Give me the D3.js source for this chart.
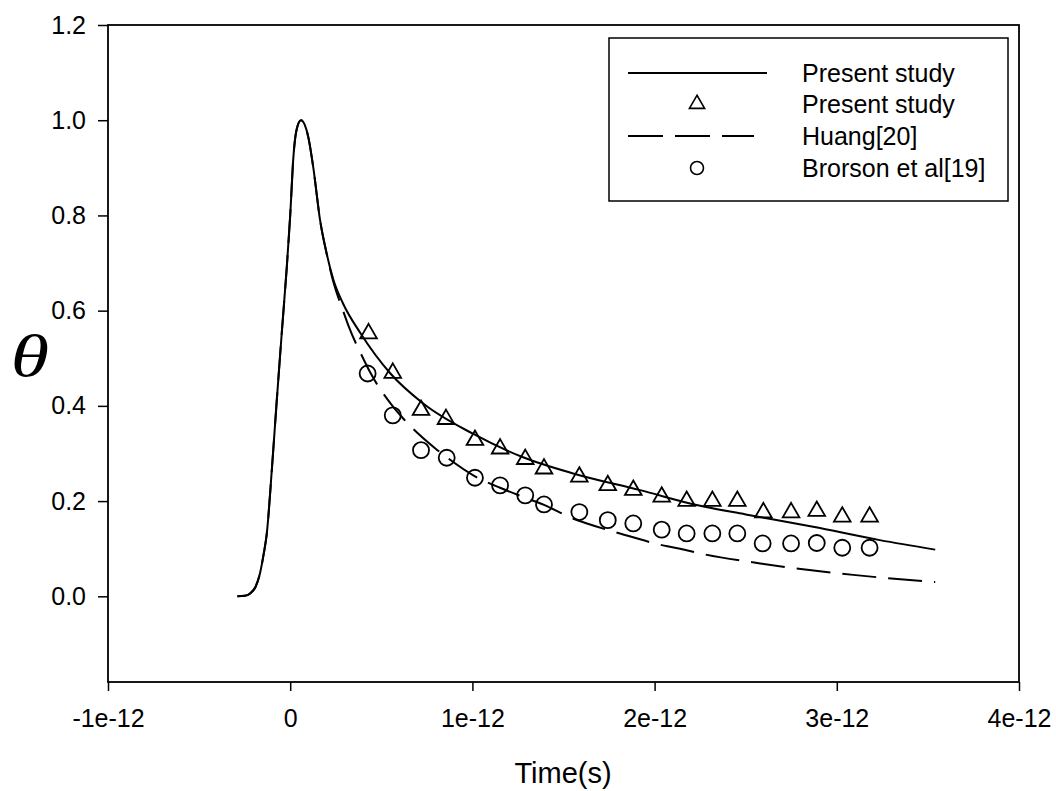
<!DOCTYPE html>
<html>
<head>
<meta charset="utf-8">
<script src="https://cdn.jsdelivr.net/npm/d3@7"></script>
<style>
  html, body { margin: 0; padding: 0; background: #fff; }
  svg { display: block; }
  text { font-family: "Liberation Sans", Arial, sans-serif; fill: #000; }
</style>
</head>
<body>
<svg id="chart" width="1056" height="791"></svg>
<script>
// ---- data (time in seconds) ----
const xTicks = [-1e-12, 0, 1e-12, 2e-12, 3e-12, 4e-12];
const xTickLabels = ["-1e-12", "0", "1e-12", "2e-12", "3e-12", "4e-12"];
const yTicks = [0, 0.2, 0.4, 0.6, 0.8, 1.0, 1.2];
const yTickLabels = ["0.0", "0.2", "0.4", "0.6", "0.8", "1.0", "1.2"];

// Present study (solid line)
const solidT = [-0.29, -0.25, -0.22, -0.19, -0.166, -0.145, -0.129, -0.10, -0.074, -0.047, -0.019, 0.0, 0.017, 0.035, 0.059, 0.08, 0.099, 0.127, 0.164, 0.20, 0.237, 0.29, 0.385, 0.55, 0.73, 1.0, 1.278, 1.553, 1.92, 2.25, 2.5, 2.87, 3.236, 3.54];
const solidV = [0.0, 0.001, 0.006, 0.02, 0.048, 0.09, 0.13, 0.27, 0.41, 0.55, 0.69, 0.80, 0.92, 0.98, 1.0, 0.99, 0.965, 0.90, 0.79, 0.72, 0.665, 0.615, 0.553, 0.468, 0.405, 0.342, 0.292, 0.258, 0.223, 0.19, 0.172, 0.146, 0.118, 0.098];

// Huang[20] (dashed line)
const dashT = [-0.29, -0.25, -0.22, -0.19, -0.166, -0.145, -0.129, -0.10, -0.074, -0.047, -0.019, 0.0, 0.017, 0.035, 0.059, 0.08, 0.099, 0.127, 0.164, 0.20, 0.237, 0.29, 0.319, 0.40, 0.438, 0.559, 0.619, 0.795, 0.859, 1.014, 1.152, 1.29, 1.393, 1.554, 1.629, 1.81, 2.07, 2.14, 2.25, 2.58, 3.09, 3.54];
const dashV = [0.0, 0.001, 0.006, 0.02, 0.048, 0.09, 0.13, 0.27, 0.41, 0.55, 0.69, 0.80, 0.92, 0.98, 1.0, 0.99, 0.965, 0.90, 0.79, 0.72, 0.66, 0.60, 0.569, 0.50, 0.471, 0.401, 0.374, 0.311, 0.292, 0.252, 0.228, 0.207, 0.192, 0.163, 0.153, 0.132, 0.105, 0.100, 0.090, 0.069, 0.045, 0.030];

// Present study (triangles)
const triT = [0.43, 0.563, 0.718, 0.855, 1.014, 1.152, 1.29, 1.393, 1.587, 1.743, 1.883, 2.039, 2.176, 2.317, 2.454, 2.597, 2.749, 2.89, 3.03, 3.18];
const triV = [0.552, 0.469, 0.391, 0.372, 0.328, 0.310, 0.288, 0.268, 0.251, 0.233, 0.223, 0.209, 0.200, 0.200, 0.200, 0.176, 0.176, 0.179, 0.167, 0.167];

// Brorson et al[19] (circles)
const circT = [0.425, 0.563, 0.718, 0.859, 1.014, 1.152, 1.29, 1.393, 1.587, 1.743, 1.883, 2.039, 2.176, 2.317, 2.454, 2.593, 2.749, 2.89, 3.03, 3.18];
const circV = [0.468, 0.380, 0.307, 0.291, 0.249, 0.233, 0.212, 0.193, 0.177, 0.160, 0.153, 0.140, 0.132, 0.132, 0.132, 0.111, 0.111, 0.112, 0.102, 0.102];

const legendLabels = ["Present study", "Present study", "Huang[20]", "Brorson et al[19]"];
const xLabel = "Time(s)";
const yLabel = "θ";

const PS = 1e-12;
const toPts = (ts, vs) => ts.map((t, i) => [t * PS, vs[i]]);

// ---- layout ----
const svg = d3.select("#chart");
const L = 108, R = 1019, T = 25, B = 682;
const x = d3.scaleLinear().domain([-1e-12, 4e-12]).range([L, R]);
const y = d3.scaleLinear().domain([-0.18, 1.2]).range([B, T]);

// frame
svg.append("rect").attr("x", L).attr("y", T).attr("width", R - L).attr("height", B - T)
  .attr("fill", "none").attr("stroke", "#000").attr("stroke-width", 1.8);

// x axis
const xAxis = d3.axisBottom(x).tickValues(xTicks).tickSize(9).tickPadding(18)
  .tickFormat((d, i) => xTickLabels[i]);
const gx = svg.append("g").attr("transform", `translate(0,${B})`).call(xAxis);
gx.select(".domain").remove();
gx.selectAll(".tick line").attr("stroke", "#000").attr("stroke-width", 1.5);
gx.selectAll(".tick text").attr("font-size", 25).attr("font-family", "Liberation Sans, Arial, sans-serif");

// y axis
const yAxis = d3.axisLeft(y).tickValues(yTicks).tickSize(10).tickPadding(12)
  .tickFormat((d, i) => yTickLabels[i]);
const gy = svg.append("g").attr("transform", `translate(${L},0)`).call(yAxis);
gy.select(".domain").remove();
gy.selectAll(".tick line").attr("stroke", "#000").attr("stroke-width", 1.5);
gy.selectAll(".tick text").attr("font-size", 25).attr("font-family", "Liberation Sans, Arial, sans-serif");

// axis titles
svg.append("text").attr("x", 563).attr("y", 783).attr("text-anchor", "middle")
  .attr("font-size", 29).text(xLabel);
svg.append("text").attr("text-anchor", "middle")
  .attr("transform", "translate(30,376) scale(1.3,1)")
  .attr("font-size", 60).attr("font-style", "italic")
  .style("font-family", "'Liberation Serif', 'Times New Roman', serif").text(yLabel);

// lines
const line = d3.line().x(d => x(d[0])).y(d => y(d[1])).curve(d3.curveMonotoneX);
const plot = svg.append("g");
plot.append("path").datum(toPts(dashT, dashV)).attr("d", line)
  .attr("fill", "none").attr("stroke", "#000").attr("stroke-width", 2)
  .attr("stroke-dasharray", "34,12");
plot.append("path").datum(toPts(solidT, solidV)).attr("d", line)
  .attr("fill", "none").attr("stroke", "#000").attr("stroke-width", 2);

// markers
const triSym = d3.symbol().type(d3.symbolTriangle).size(120);
plot.selectAll(".tri").data(toPts(triT, triV)).join("path")
  .attr("class", "tri").attr("d", triSym)
  .attr("transform", d => `translate(${x(d[0])},${y(d[1])})`)
  .attr("fill", "none").attr("stroke", "#000").attr("stroke-width", 1.8);
plot.selectAll(".circ").data(toPts(circT, circV)).join("circle")
  .attr("class", "circ").attr("cx", d => x(d[0])).attr("cy", d => y(d[1])).attr("r", 8)
  .attr("fill", "none").attr("stroke", "#000").attr("stroke-width", 1.8);

// legend
const lg = svg.append("g");
lg.append("rect").attr("x", 609).attr("y", 38).attr("width", 399).attr("height", 163)
  .attr("fill", "#fff").attr("stroke", "#000").attr("stroke-width", 1.5);
const rowY = [73, 104, 136, 168];
const sx0 = 628, sx1 = 767, sxm = 697, tx = 802;
lg.append("line").attr("x1", sx0).attr("x2", sx1).attr("y1", rowY[0]).attr("y2", rowY[0])
  .attr("stroke", "#000").attr("stroke-width", 2);
lg.append("path").attr("d", d3.symbol().type(d3.symbolTriangle).size(100))
  .attr("transform", `translate(${sxm},${rowY[1]})`)
  .attr("fill", "none").attr("stroke", "#000").attr("stroke-width", 1.6);
lg.append("line").attr("x1", sx0).attr("x2", 754).attr("y1", rowY[2]).attr("y2", rowY[2])
  .attr("stroke", "#000").attr("stroke-width", 2).attr("stroke-dasharray", "35,12");
lg.append("circle").attr("cx", sxm).attr("cy", rowY[3]).attr("r", 6.5)
  .attr("fill", "none").attr("stroke", "#000").attr("stroke-width", 1.6);
legendLabels.forEach((lab, i) => {
  lg.append("text").attr("x", tx).attr("y", rowY[i]).attr("dy", "0.36em")
    .attr("font-size", 25).text(lab);
});
</script>
</body>
</html>
